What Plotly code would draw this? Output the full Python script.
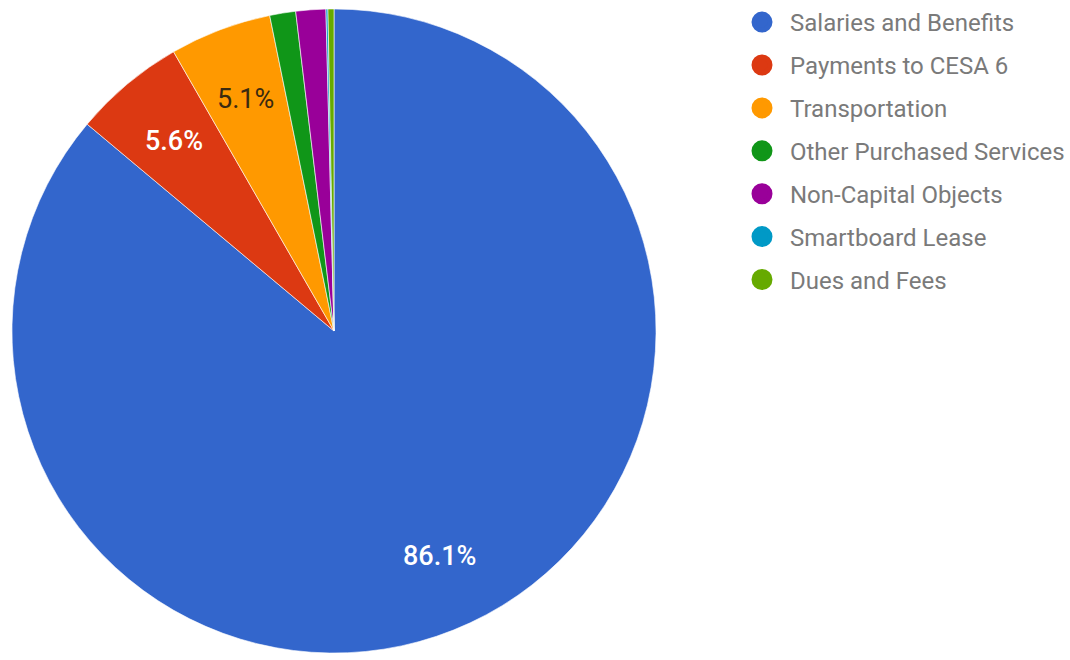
import math
import plotly.graph_objects as go

categories = ["Salaries and Benefits", "Payments to CESA 6", "Transportation",
              "Other Purchased Services", "Non-Capital Objects", "Smartboard Lease",
              "Dues and Fees"]
values = [86.1, 5.6, 5.1, 1.3, 1.5, 0.1, 0.3]
colors = ["#3366cc", "#dc3912", "#ff9900", "#109618", "#990099", "#0099c6", "#66aa00"]
label_shown = [True, True, True, False, False, False, False]
text_colors = ["#ffffff", "#ffffff", "#3a2a10", "#ffffff", "#ffffff", "#ffffff", "#ffffff"]
text_weights = [500, 500, 400, 400, 400, 400, 400]

W, H = 1070, 660
pie_left, pie_right, pie_top, pie_bottom = 10, 658, 5, 653
cx_px = (pie_left + pie_right) / 2
cy_px = (pie_top + pie_bottom) / 2
radius_px = (pie_right - pie_left) / 2
label_frac = 0.77

fig = go.Figure()
fig.add_trace(go.Pie(
    labels=categories, values=values, sort=False, direction="clockwise", rotation=0,
    marker=dict(colors=colors, line=dict(color="#ffffff", width=0.6)),
    textinfo="none", showlegend=False, hoverinfo="label+percent",
    domain=dict(x=[pie_left / W, pie_right / W], y=[1 - pie_bottom / H, 1 - pie_top / H]),
))

# slice labels placed at the bisector of each slice (computed from the data)
total = sum(values)
cum = 0.0
for v, show, tc, tw in zip(values, label_shown, text_colors, text_weights):
    mid = (cum + v / 2) / total * 2 * math.pi
    cum += v
    if not show:
        continue
    xp = cx_px + label_frac * radius_px * math.sin(mid)
    yp = cy_px - label_frac * radius_px * math.cos(mid)
    fig.add_annotation(x=xp / W, y=1 - yp / H, xref="paper", yref="paper",
                       text=f"{v / total * 100:.1f}%", showarrow=False,
                       font=dict(family="Roboto", size=27, color=tc, weight=tw),
                       xanchor="center", yanchor="middle")

for c, col in zip(categories, colors):
    fig.add_trace(go.Scatter(
        x=[None], y=[None], mode="markers", name=c, legendgroup=c,
        marker=dict(symbol="circle", size=16, color=col, line=dict(color=col, width=5)),
        showlegend=True,
    ))

fig.update_layout(
    width=W, height=H, margin=dict(l=0, r=0, t=0, b=0),
    paper_bgcolor="#ffffff", plot_bgcolor="#ffffff",
    xaxis=dict(visible=False, domain=[0.99, 1.0]),
    yaxis=dict(visible=False, domain=[0.99, 1.0]),
    legend=dict(x=734 / W, y=1 + 4 / H, xanchor="left", yanchor="top",
                font=dict(family="Roboto", size=24, color="#7a7a7a"),
                tracegroupgap=8.7, itemwidth=46, bgcolor="rgba(0,0,0,0)"),
)
fig.write_html("out.html")
